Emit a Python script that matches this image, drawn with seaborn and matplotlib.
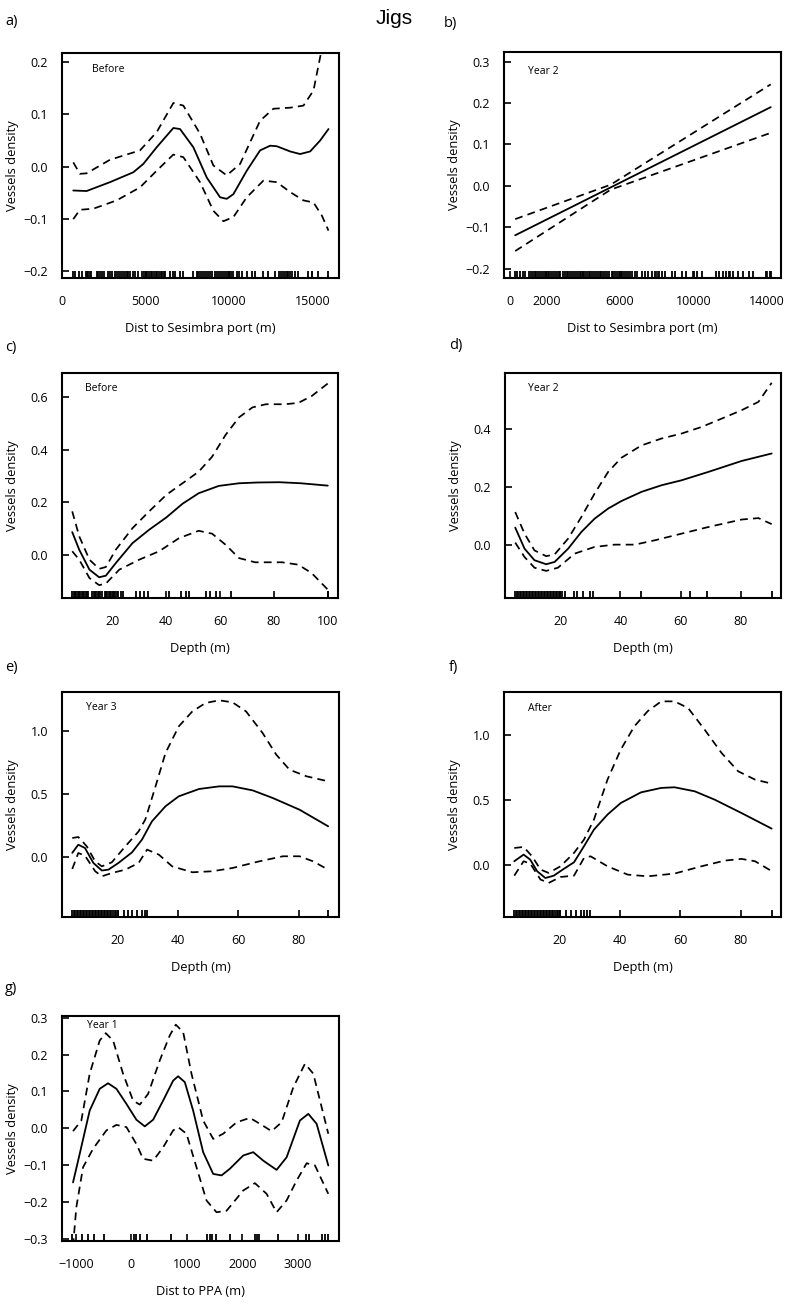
import matplotlib
matplotlib.use("Agg")
import matplotlib.pyplot as plt
import seaborn as sns

# ---- data ----
# a) Dist to Sesimbra port, Before
a_x = [660, 1460, 2860, 4260, 4860, 5660, 6660, 7060, 7860, 8660, 9460, 9860, 10260, 11060, 11860, 12460, 12860, 13660, 14260, 14860, 15460, 15960]
a_fit = [-0.046, -0.047, -0.030, -0.011, 0.005, 0.037, 0.074, 0.072, 0.037, -0.021, -0.059, -0.062, -0.053, -0.008, 0.031, 0.040, 0.039, 0.029, 0.024, 0.029, 0.050, 0.072]
a_up_x = [660, 1060, 1460, 2860, 3860, 4660, 5660, 6660, 7260, 8260, 9060, 9860, 10660, 11860, 12660, 13660, 14460, 15060, 15460, 15960]
a_up = [0.008, -0.014, -0.013, 0.013, 0.023, 0.031, 0.066, 0.122, 0.117, 0.063, 0.002, -0.017, 0.005, 0.088, 0.111, 0.113, 0.117, 0.146, 0.210, 0.290]
a_lo_x = [660, 1060, 1860, 3260, 4660, 5660, 6660, 7260, 8260, 9060, 9660, 10260, 11060, 12060, 12860, 13660, 14460, 15060, 15560, 15960]
a_lo = [-0.101, -0.083, -0.081, -0.065, -0.040, -0.008, 0.023, 0.018, -0.030, -0.085, -0.105, -0.097, -0.059, -0.027, -0.030, -0.049, -0.065, -0.069, -0.094, -0.123]
a_rug = [660, 760, 1000, 1160, 1400, 1480, 1560, 1640, 1720, 2060, 2160, 2280, 2400, 2500, 2760, 2880, 2960, 3160, 3280, 3400, 3520,
         3660, 3760, 3860, 3960, 4060, 4260, 4380, 4520, 4800, 4900, 5000, 5100, 5200, 5300, 5400, 5500, 5600, 5700, 5800, 5900,
         6000, 6100, 6160, 6460, 6660, 6760, 7060, 7260, 7860, 8060, 8160, 8280, 8400, 8520, 8640, 8760, 8880, 8960, 9160, 9260,
         9380, 9500, 9620, 9740, 9860, 9980, 10100, 10260, 10460, 10600, 10760, 11060, 11360, 11560, 12060, 12360, 12760, 13000,
         13120, 13240, 13360, 13460, 13560, 13660, 13760, 13960, 14160, 14760, 14960, 15360, 15960]

# b) Dist to Sesimbra port, Year 2 (linear)
b_x = [300, 14220]
b_fit = [-0.119, 0.190]
b_up_x = [300, 5500, 14220]
b_up = [-0.080, 0.003, 0.245]
b_lo_x = [300, 5500, 14220]
b_lo = [-0.157, -0.009, 0.128]
b_rug = [300, 420, 560, 700, 820, 1060, 1160, 1260, 1360, 1460, 1560, 1660, 1760, 1860, 1960, 2060, 2160, 2260, 2360, 2460,
         2560, 2660, 2760, 2890, 2990, 3100, 3200, 3300, 3400, 3500, 3600, 3700, 3810, 3900, 4000, 4100, 4200, 4300, 4400,
         4500, 4600, 4700, 4800, 4900, 5000, 5100, 5200, 5300, 5400, 5550, 5640, 5740, 5840, 5940, 6040, 6140, 6240, 6340,
         6440, 6540, 6640, 6830, 6920, 7200, 7380, 7560, 7740, 7930, 8110, 8300, 8480, 8850, 9030, 9400, 9580, 10040, 10220,
         10500, 11230, 11410, 11600, 11780, 11960, 12140, 12420, 12690, 13060, 13240, 13980, 14160, 14220]

# c) Depth, Before
c_x = [5, 7.6, 11.4, 15, 17.5, 21.2, 27.4, 33.6, 40, 46, 52, 59.5, 67, 74, 82, 90, 100]
c_fit = [0.086, 0.019, -0.057, -0.086, -0.080, -0.032, 0.044, 0.095, 0.142, 0.194, 0.234, 0.262, 0.272, 0.275, 0.276, 0.272, 0.263]
c_up_x = [5, 7.6, 11.4, 15, 17.5, 21.2, 27.4, 33.6, 40, 46, 52, 57, 62, 67, 72, 77, 84, 89, 94, 100]
c_up = [0.165, 0.070, -0.019, -0.054, -0.047, 0.019, 0.101, 0.165, 0.228, 0.272, 0.316, 0.373, 0.456, 0.523, 0.561, 0.573, 0.573, 0.578, 0.604, 0.652]
c_lo_x = [5, 7.6, 11.4, 15, 17.5, 22.5, 29.9, 37.3, 44.7, 52, 57, 62, 67, 73, 83, 89, 94, 100]
c_lo = [0.013, -0.019, -0.089, -0.116, -0.110, -0.057, -0.019, 0.013, 0.063, 0.091, 0.080, 0.038, -0.013, -0.029, -0.029, -0.038, -0.070, -0.133]
c_rug = [5, 5.5, 6, 6.5, 7, 7.5, 8, 8.5, 9, 9.5, 10, 10.5, 11, 12.5, 13, 13.5, 14, 14.5, 15, 15.5, 16, 17, 17.5,
         18, 18.5, 19, 19.5, 20, 20.5, 21, 21.5, 22, 23, 23.7, 28.7, 30.3, 31.5, 33.2, 41, 45.3, 47.2, 48.4, 54.6,
         56.4, 58.3, 64.2, 100]

# d) Depth, Year 2
d_x = [5, 8.1, 11.4, 15.3, 18.1, 22.6, 27, 31.4, 35.9, 40.3, 47, 53.7, 60.3, 69.2, 80.3, 90.3]
d_fit = [0.059, -0.014, -0.054, -0.068, -0.060, -0.014, 0.044, 0.090, 0.125, 0.151, 0.183, 0.206, 0.223, 0.252, 0.290, 0.316]
d_up_x = [5, 8.1, 11.4, 15.3, 18.1, 22.6, 27, 31.4, 35.9, 40.3, 47, 53.7, 60.3, 67, 73.7, 80.3, 85.9, 90.3]
d_up = [0.113, 0.038, -0.020, -0.040, -0.034, 0.021, 0.096, 0.177, 0.252, 0.301, 0.344, 0.368, 0.385, 0.408, 0.437, 0.466, 0.495, 0.561]
d_lo_x = [5, 8.1, 11.4, 15.3, 19.2, 24.8, 31.4, 38, 44.8, 51.4, 60.3, 69.2, 80.3, 85.9, 90.3]
d_lo = [0.007, -0.043, -0.080, -0.091, -0.080, -0.031, -0.008, 0.0, 0.0, 0.015, 0.038, 0.061, 0.087, 0.092, 0.071]
d_rug = [5, 5.5, 6, 6.5, 7, 7.5, 8, 8.5, 9, 9.5, 10, 10.5, 11, 11.5, 12, 12.5, 13, 13.5, 14, 14.5, 15, 15.5, 16,
         16.5, 17, 17.5, 18, 18.5, 19, 19.5, 20, 20.5, 21.4, 24.6, 25.7, 27.6, 29.8, 30.9, 47, 63.1, 68.7, 90.3]

# e) Depth, Year 3
e_x = [5, 7, 9.2, 12, 14.8, 17, 20.3, 24.8, 28.1, 31.4, 35.9, 40.3, 47, 53.7, 58.1, 64.8, 71.4, 80.3, 89.8]
e_fit = [0.030, 0.095, 0.069, -0.050, -0.110, -0.103, -0.050, 0.034, 0.135, 0.280, 0.400, 0.479, 0.537, 0.558, 0.558, 0.526, 0.466, 0.373, 0.241]
e_up_x = [5, 7, 9.8, 12.6, 14.8, 18.1, 22.6, 27, 29.2, 32.6, 35.9, 40.3, 44.8, 49.2, 53.7, 58.1, 62.6, 68.1, 72.6, 77, 82.6, 89.8]
e_up = [0.148, 0.156, 0.082, -0.037, -0.077, -0.045, 0.082, 0.201, 0.294, 0.558, 0.823, 1.034, 1.153, 1.220, 1.241, 1.225, 1.153, 0.981, 0.810, 0.690, 0.638, 0.598]
e_lo_x = [5, 7, 9.2, 12.6, 14.8, 18.1, 22.6, 27, 29.8, 33.7, 38.1, 44.8, 51.4, 58.1, 67, 74.8, 80.3, 84.8, 89.8]
e_lo = [-0.098, 0.029, 0.008, -0.116, -0.156, -0.130, -0.103, -0.050, 0.056, 0.016, -0.077, -0.124, -0.116, -0.090, -0.037, 0.003, 0.003, -0.037, -0.103]
e_rug = [5, 5.5, 6, 6.5, 7, 7.5, 8, 8.5, 9, 9.5, 10, 10.5, 11, 11.5, 12, 12.5, 13, 13.5, 14, 14.5, 15, 15.5, 16,
         16.5, 17, 17.5, 18, 18.5, 19, 19.5, 20, 22, 23.4, 24.8, 26.4, 28.1, 29, 29.8, 89.8]

# f) Depth, After
f_x = [5, 8.1, 10.3, 12.6, 15.3, 18.1, 21.4, 24.8, 28.1, 31.4, 35.9, 40.3, 47, 53.7, 58.1, 64.8, 71.4, 80.3, 90.3]
f_fit = [0.026, 0.077, 0.038, -0.051, -0.103, -0.085, -0.033, 0.018, 0.141, 0.269, 0.385, 0.474, 0.556, 0.590, 0.595, 0.564, 0.500, 0.397, 0.277]
f_up_x = [5, 8.1, 10.9, 13.7, 16.4, 20.3, 24.8, 28.1, 31.4, 35.9, 40.3, 44.8, 49.2, 53.7, 58.1, 62.6, 68.1, 73.7, 79.2, 84.8, 90.3]
f_up = [0.128, 0.136, 0.064, -0.038, -0.064, -0.013, 0.090, 0.192, 0.346, 0.654, 0.885, 1.064, 1.180, 1.256, 1.256, 1.205, 1.038, 0.859, 0.718, 0.654, 0.623]
f_lo_x = [5, 8.1, 10.3, 13.7, 16.4, 20.3, 24.8, 28.1, 30.3, 35.9, 42.6, 49.2, 58.1, 67, 74.8, 80.3, 84.8, 90.3]
f_lo = [-0.085, 0.026, 0.008, -0.115, -0.141, -0.095, -0.085, 0.051, 0.064, -0.013, -0.077, -0.090, -0.069, -0.013, 0.031, 0.044, 0.026, -0.050]
f_rug = [5, 5.5, 6, 6.5, 7, 7.5, 8, 8.5, 9, 9.5, 10, 10.5, 11, 11.5, 12, 12.5, 13, 13.5, 14, 14.5, 15, 15.5, 16,
         16.5, 17, 17.5, 18, 18.5, 19, 19.5, 20.3, 22, 23.7, 25.3, 27, 28.1, 29, 30.1, 90.3]

# g) Dist to PPA, Year 1
g_x = [-1054, -934, -753, -572, -422, -271, -90, 90, 241, 392, 572, 753, 843, 964, 1114, 1295, 1476, 1627, 1777, 2018, 2199, 2380, 2620, 2801, 3042, 3193, 3343, 3554]
g_fit = [-0.147, -0.070, 0.048, 0.107, 0.122, 0.107, 0.066, 0.023, 0.005, 0.023, 0.075, 0.129, 0.141, 0.125, 0.048, -0.065, -0.124, -0.128, -0.110, -0.074, -0.065, -0.088, -0.113, -0.079, 0.021, 0.039, 0.012, -0.101]
g_up_x = [-1054, -904, -753, -572, -464, -331, -151, 30, 151, 301, 512, 693, 801, 934, 1084, 1295, 1476, 1657, 1898, 2139, 2319, 2530, 2711, 2922, 3133, 3283, 3434, 3554]
g_up = [-0.008, 0.021, 0.148, 0.238, 0.258, 0.238, 0.148, 0.075, 0.064, 0.093, 0.184, 0.252, 0.281, 0.261, 0.148, 0.021, -0.029, -0.015, 0.016, 0.028, 0.012, -0.008, 0.016, 0.111, 0.175, 0.148, 0.057, -0.015]
g_lo_x = [-1054, -994, -873, -693, -452, -271, -90, 90, 211, 392, 572, 753, 843, 994, 1175, 1355, 1536, 1717, 2018, 2229, 2440, 2620, 2801, 2982, 3163, 3313, 3554]
g_lo = [-0.320, -0.214, -0.106, -0.056, -0.006, 0.009, 0.003, -0.043, -0.083, -0.088, -0.052, -0.006, 0.003, -0.015, -0.106, -0.196, -0.228, -0.224, -0.169, -0.149, -0.178, -0.228, -0.196, -0.142, -0.095, -0.101, -0.178]
g_rug = [-1073, -892, -783, -675, -494, 41, 90, 150, 289, 722, 1372, 1415, 1463, 1523, 1788, 2227, 2270, 2306, 2649,
         3143, 3203, 3432, 3492, 3540]

# tick labels
port_a_ticks = [0, 5000, 10000, 15000]
port_a_labels = ["0", "5000", "10000", "15000"]
port_b_ticks = [0, 2000, 4000, 6000, 8000, 10000, 12000, 14000]
port_b_labels = ["0", "2000", "", "6000", "", "10000", "", "14000"]
depth_c_ticks = [20, 40, 60, 80, 100]
depth_ticks = [20, 40, 60, 80]
ppa_ticks = [-1000, 0, 1000, 2000, 3000]
ppa_labels = ["\u22121000", "0", "1000", "2000", "3000"]

# ---- style ----
sns.set_theme(style="ticks")
plt.rcParams["font.family"] = ["Open Sans", "DejaVu Sans"]
plt.rcParams["text.color"] = "black"
plt.rcParams["axes.labelcolor"] = "black"
plt.rcParams["xtick.color"] = "black"
plt.rcParams["ytick.color"] = "black"

W, H = 788, 1304
fig = plt.figure(figsize=(W / 100, H / 100), dpi=100)


def make_panel(box, xs, ys, rug, xlim, ylim, xticks, xlabels, yticks, ylabels, xlabel, note, note_x=0.085, note_y=0.925):
    x0, y0, x1, y1 = box
    ax = fig.add_axes([x0 / W, 1 - y1 / H, (x1 - x0) / W, (y1 - y0) / H])
    (fx, fy), (ux, uy), (lx, ly) = zip(xs, ys)
    sns.lineplot(x=fx, y=fy, ax=ax, color="black", linewidth=1.3, sort=False, estimator=None)
    sns.lineplot(x=ux, y=uy, ax=ax, color="black", linewidth=1.25, linestyle=(0, (4.5, 3)), sort=False, estimator=None)
    sns.lineplot(x=lx, y=ly, ax=ax, color="black", linewidth=1.25, linestyle=(0, (4.5, 3)), sort=False, estimator=None)
    sns.rugplot(x=rug, ax=ax, height=0.03, color="black", linewidth=1.3, expand_margins=False)
    ax.set_xlim(*xlim)
    ax.set_ylim(*ylim)
    ax.set_xticks(xticks)
    ax.set_xticklabels(xlabels)
    ax.set_yticks(yticks)
    ax.set_yticklabels(ylabels)
    ax.tick_params(direction="in", length=4.8, width=1.2, color="black", labelsize=9, labelcolor="black")
    ax.tick_params(axis="x", pad=12)
    ax.tick_params(axis="y", pad=10)
    for s in ax.spines.values():
        s.set_linewidth(1.5)
        s.set_color("black")
    ax.set_xlabel(xlabel, fontsize=9.3, color="black")
    ax.set_ylabel("Vessels density", fontsize=9.3, color="black")
    hpx = y1 - y0
    wpx = x1 - x0
    ax.xaxis.set_label_coords(0.5, -44 / hpx)
    ax.yaxis.set_label_coords(-43 / wpx, 0.5)
    ax.text(note_x, note_y, note, transform=ax.transAxes, fontsize=7.5, ha="left", va="center", color="black")
    return ax


make_panel((62, 53, 339, 278), (a_x, a_up_x, a_lo_x), (a_fit, a_up, a_lo), a_rug,
           (-15, 16590), (-0.214, 0.218), port_a_ticks, port_a_labels,
           [-0.2, -0.1, 0.0, 0.1, 0.2], ["\u22120.2", "\u22120.1", "0.0", "0.1", "0.2"],
           "Dist to Sesimbra port (m)", "Before", 0.108, 0.925)

make_panel((504, 52, 781, 278), (b_x, b_up_x, b_lo_x), (b_fit, b_up, b_lo), b_rug,
           (-310, 14780), (-0.222, 0.323), port_b_ticks, port_b_labels,
           [-0.2, -0.1, 0.0, 0.1, 0.2, 0.3], ["\u22120.2", "\u22120.1", "0.0", "0.1", "0.2", "0.3"],
           "Dist to Sesimbra port (m)", "Year 2", 0.085, 0.915)

make_panel((62, 373, 338, 598), (c_x, c_up_x, c_lo_x), (c_fit, c_up, c_lo), c_rug,
           (1.2, 103.8), (-0.165, 0.692), depth_c_ticks, ["20", "40", "60", "80", "100"],
           [0.0, 0.2, 0.4, 0.6], ["0.0", "0.2", "0.4", "0.6"],
           "Depth (m)", "Before", 0.085, 0.929)

make_panel((505, 373, 781, 598), (d_x, d_up_x, d_lo_x), (d_fit, d_up, d_lo), d_rug,
           (1.6, 93.4), (-0.185, 0.595), depth_ticks, ["20", "40", "60", "80"],
           [0.0, 0.2, 0.4], ["0.0", "0.2", "0.4"],
           "Depth (m)", "Year 2", 0.085, 0.933)

make_panel((62, 692, 339, 917), (e_x, e_up_x, e_lo_x), (e_fit, e_up, e_lo), e_rug,
           (1.6, 93.4), (-0.479, 1.307), depth_ticks, ["20", "40", "60", "80"],
           [0.0, 0.5, 1.0], ["0.0", "0.5", "1.0"],
           "Depth (m)", "Year 3", 0.087, 0.929)

make_panel((504, 692, 781, 917), (f_x, f_up_x, f_lo_x), (f_fit, f_up, f_lo), f_rug,
           (1.6, 93.4), (-0.403, 1.328), depth_ticks, ["20", "40", "60", "80"],
           [0.0, 0.5, 1.0], ["0.0", "0.5", "1.0"],
           "Depth (m)", "After", 0.085, 0.925)

make_panel((62, 1016, 339, 1241), (g_x, g_up_x, g_lo_x), (g_fit, g_up, g_lo), g_rug,
           (-1253, 3747), (-0.306, 0.3045), ppa_ticks, ppa_labels,
           [-0.3, -0.2, -0.1, 0.0, 0.1, 0.2, 0.3],
           ["\u22120.3", "\u22120.2", "\u22120.1", "0.0", "0.1", "0.2", "0.3"],
           "Dist to PPA (m)", "Year 1", 0.09, 0.956)

# panel letters and title
for lab, px, py in [("a)", 5, 21), ("b)", 444, 24), ("c)", 5, 347), ("d)", 449, 345),
                    ("e)", 5, 667), ("f)", 449, 668), ("g)", 5, 988)]:
    fig.text(px / W, 1 - py / H, lab, ha="left", va="center", fontsize=10.5, color="black")

fig.text(394 / W, 1 - 18 / H, "Jigs", ha="center", va="center", fontsize=15, color="black",
         family=["Liberation Sans", "DejaVu Sans"])

fig.savefig("out.png", dpi=100, facecolor="white")
